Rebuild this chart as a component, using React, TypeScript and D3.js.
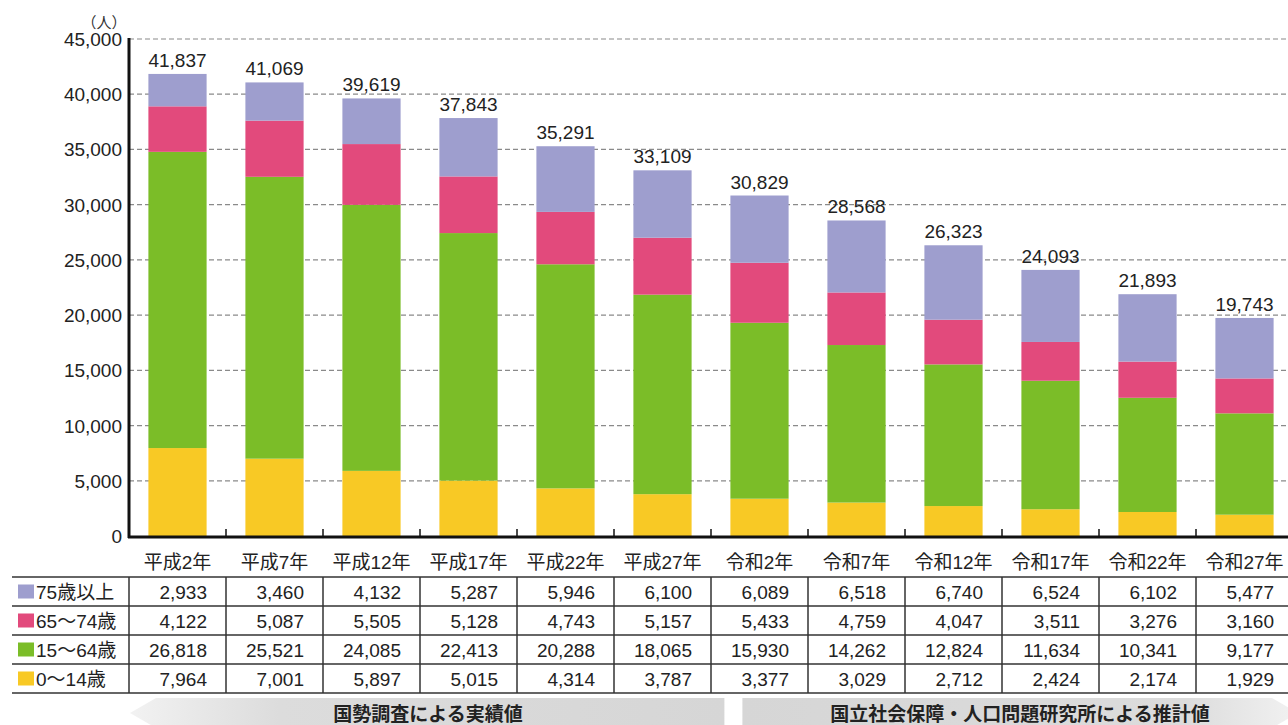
import React from "react";
import * as d3 from "d3";

const years = ["平成2年", "平成7年", "平成12年", "平成17年", "平成22年", "平成27年", "令和2年", "令和7年", "令和12年", "令和17年", "令和22年", "令和27年"];
const age75 = [2933, 3460, 4132, 5287, 5946, 6100, 6089, 6518, 6740, 6524, 6102, 5477];
const age65 = [4122, 5087, 5505, 5128, 4743, 5157, 5433, 4759, 4047, 3511, 3276, 3160];
const age15 = [26818, 25521, 24085, 22413, 20288, 18065, 15930, 14262, 12824, 11634, 10341, 9177];
const age0 = [7964, 7001, 5897, 5015, 4314, 3787, 3377, 3029, 2712, 2424, 2174, 1929];
const totals = [41837, 41069, 39619, 37843, 35291, 33109, 30829, 28568, 26323, 24093, 21893, 19743];
const yTicks = [0, 5000, 10000, 15000, 20000, 25000, 30000, 35000, 40000, 45000];

// stacked bottom -> top
const series = [
  { key: "0〜14歳", values: age0, color: "#f8c925" },
  { key: "15〜64歳", values: age15, color: "#7bbd28" },
  { key: "65〜74歳", values: age65, color: "#e24a7c" },
  { key: "75歳以上", values: age75, color: "#9e9ece" },
];
// table order top -> bottom
const tableRows = [series[3], series[2], series[1], series[0]];

const W = 1288;
const H = 725;
const FONT = "'Liberation Sans', 'Noto Sans CJK JP', sans-serif";
const fmt = d3.format(",");

export default function App() {
  const x = d3.scaleBand<string>().domain(years).range([129, 129 + 97 * 12]).paddingInner(0.4).paddingOuter(0.2);
  const y = d3.scaleLinear().domain([0, 45000]).range([536, 39]);

  const stack = d3.stack<number>()
    .keys(series.map((_, i) => String(i)))
    .value((i, k) => series[+k].values[i]);
  const stacked = stack(years.map((_, i) => i));

  const rowTop = 577;
  const rowH = 29;
  const tableLeft = 12;
  const splitX = x(years[6])! - x.step() * x.paddingOuter() * 0; // band start of 令和2年
  const bandStart = (i: number) => 129 + x.step() * i;

  return (
    <svg width={W} height={H} style={{ position: "absolute", left: 0, top: 0, background: "#fff" }} fontFamily={FONT}>
      <defs>
        <linearGradient id="gl" x1="0" x2="1" y1="0" y2="0">
          <stop offset="0" stopColor="#f2f2f2" />
          <stop offset="0.25" stopColor="#dcdcdc" />
          <stop offset="1" stopColor="#d6d6d6" />
        </linearGradient>
        <linearGradient id="gr" x1="0" x2="1" y1="0" y2="0">
          <stop offset="0" stopColor="#d6d6d6" />
          <stop offset="0.8" stopColor="#dcdcdc" />
          <stop offset="1" stopColor="#f2f2f2" />
        </linearGradient>
      </defs>

      {/* unit label */}
      <text x={104} y={28} textAnchor="middle" fontSize={15} fill="#333">（人）</text>

      {/* gridlines */}
      {yTicks.filter((t) => t > 0).map((t) => (
        <line key={t} x1={129} x2={W} y1={y(t)} y2={y(t)} stroke="#8a8a8a" strokeWidth={1.2} strokeDasharray="5,3" />
      ))}

      {/* y tick labels */}
      {yTicks.map((t) => (
        <text key={t} x={122} y={y(t) + 7} textAnchor="end" fontSize={19} fill="#222">{fmt(t)}</text>
      ))}

      {/* bars */}
      {stacked.map((layer, si) => (
        <g key={si} fill={series[si].color}>
          {layer.map((d, i) => (
            <rect key={i} x={x(years[i])} y={y(d[1])} width={x.bandwidth()} height={y(d[0]) - y(d[1])} />
          ))}
        </g>
      ))}

      {/* totals */}
      {totals.map((t, i) => (
        <text key={i} x={x(years[i])! + x.bandwidth() / 2} y={y(t) - 7} textAnchor="middle" fontSize={19} fill="#222">{fmt(t)}</text>
      ))}

      {/* axes */}
      <line x1={129} x2={129} y1={38} y2={538} stroke="#111" strokeWidth={3} />
      <line x1={128} x2={W} y1={537} y2={537} stroke="#111" strokeWidth={3} />
      {years.map((_, i) => i > 0 && (
        <line key={i} x1={bandStart(i)} x2={bandStart(i)} y1={529} y2={537} stroke="#111" strokeWidth={1.5} />
      ))}

      {/* header row */}
      {years.map((yr) => (
        <text key={yr} x={x(yr)! + x.bandwidth() / 2} y={569} textAnchor="middle" fontSize={19} fill="#222">{yr}</text>
      ))}

      {/* table */}
      {d3.range(5).map((r) => (
        <line key={r} x1={tableLeft} x2={W} y1={rowTop + r * rowH} y2={rowTop + r * rowH} stroke="#333" strokeWidth={1.5} />
      ))}
      {d3.range(12).map((i) => (
        <line key={i} x1={bandStart(i)} x2={bandStart(i)} y1={rowTop} y2={rowTop + 4 * rowH} stroke="#333" strokeWidth={1.5} />
      ))}
      {tableRows.map((s, r) => {
        const cy = rowTop + r * rowH + rowH / 2;
        return (
          <g key={s.key}>
            <rect x={18} y={cy - 7} width={16} height={14} fill={s.color} />
            <text x={36} y={cy + 7} fontSize={19} fill="#222">{s.key}</text>
            {s.values.map((v, i) => (
              <text key={i} x={bandStart(i + 1) - 19} y={cy + 7} textAnchor="end" fontSize={19} fill="#222">{fmt(v)}</text>
            ))}
          </g>
        );
      })}

      {/* arrows */}
      <polygon
        points={`130,713 156,698 ${splitX - 6},698 ${splitX - 6},728 156,728`}
        fill="url(#gl)"
      />
      <polygon
        points={`${splitX + 12},698 1272,698 1298,713 1272,728 ${splitX + 12},728`}
        fill="url(#gr)"
      />
      <text x={428} y={721} textAnchor="middle" fontSize={19} fontWeight="bold" fill="#222" fontFamily="'Noto Sans CJK JP', sans-serif">国勢調査による実績値</text>
      <text x={1020} y={721} textAnchor="middle" fontSize={19} fontWeight="bold" fill="#222" fontFamily="'Noto Sans CJK JP', sans-serif">国立社会保障・人口問題研究所による推計値</text>
    </svg>
  );
}
